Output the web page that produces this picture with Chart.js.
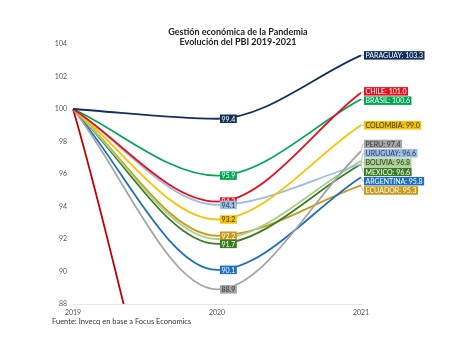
<!DOCTYPE html>
<html><head><meta charset="utf-8">
<script src="https://cdn.jsdelivr.net/npm/chart.js@4"></script>
<style>html,body{margin:0;padding:0;background:#fff}#wrap{width:474px;height:355px}</style>
</head><body><div id="wrap"><canvas id="c" width="474" height="355"></canvas></div>
<script>
// ---- data ----
const years = ['2019', '2020', '2021'];
const countries = ['PARAGUAY','CHILE','BRASIL','COLOMBIA','PERU','URUGUAY','BOLIVIA','MEXICO','ARGENTINA','ECUADOR'];
const paraguay  = [100, 99.4, 103.3];
const chile     = [100, 94.3, 101.0];
const brasil    = [100, 95.9, 100.6];
const colombia  = [100, 93.2, 99.0];
const peru      = [100, 88.9, 97.4];
const uruguay   = [100, 94.1, 96.6];
const bolivia   = [100, 92.0, 96.8];
const mexico    = [100, 91.7, 96.6];
const argentina = [100, 90.1, 95.8];
const ecuador   = [100, 92.2, 95.3];
const otro      = [100, 70.0, 66.0];   // unlabeled series falling off the chart
const yTicks = [88, 90, 92, 94, 96, 98, 100, 102, 104];
const titleLines = ['Gestión económica de la Pandemia', 'Evolución del PBI 2019-2021'];
const sourceText = 'Fuente: Invecq en base a Focus Economics';

// ---- styles ----
const seriesValues = [paraguay, chile, brasil, colombia, peru, uruguay, bolivia, mexico, argentina, ecuador];
const colors = ['#12305a','#e8101e','#00a650','#f6c300','#a5a5a5','#9bbde0','#a6d08a','#3a7d23','#1e6fc0','#c89a1a'];
const textColors = ['#fff','#fff','#fff','#333','#333','#2b3a55','#333','#fff','#fff','#fff'];
const midDrawOrder = [0,2,1,5,3,6,9,7,8,4];
const FONT = 'Lato, "Open Sans", sans-serif';

const datasets = seriesValues.map((v, i) => ({
  label: countries[i], data: v, borderColor: colors[i], backgroundColor: colors[i],
  borderWidth: 1.8, pointRadius: 0, cubicInterpolationMode: 'monotone', fill: false,
  clip: {left: 2, top: 2, right: 2, bottom: 0}
}));
datasets.push({label: '', data: otro, borderColor: '#c00000', borderWidth: 1.8, pointRadius: 0,
  cubicInterpolationMode: 'monotone', fill: false, clip: {left: 2, top: 2, right: 2, bottom: 0}});

function box(ctx, text, x, y, bg, fg, align) {
  ctx.font = '7px ' + FONT;
  const w = ctx.measureText(text).width + 3, h = 8.5;
  const left = align === 'left' ? x : x - w / 2;
  ctx.fillStyle = bg; ctx.fillRect(left, y - h / 2, w, h);
  ctx.fillStyle = fg; ctx.textBaseline = 'middle'; ctx.textAlign = 'left';
  ctx.fillText(text, left + 1.5, y + 0.5);
}

function spread(ys, gap) {
  const clusters = [];
  ys.forEach((y, idx) => {
    clusters.push({sum: y, idx: [idx]});
    while (clusters.length > 1) {
      const c = clusters[clusters.length - 1], p = clusters[clusters.length - 2];
      const cTop = c.sum / c.idx.length - (c.idx.length - 1) * gap / 2;
      const pBot = p.sum / p.idx.length + (p.idx.length - 1) * gap / 2;
      if (cTop < pBot + gap) { p.sum += c.sum; p.idx = p.idx.concat(c.idx); clusters.pop(); } else break;
    }
  });
  const out = [];
  clusters.forEach(c => {
    const top = c.sum / c.idx.length - (c.idx.length - 1) * gap / 2;
    c.idx.forEach((k, j) => out[k] = top + j * gap);
  });
  return out;
}

const labelsPlugin = {
  id: 'labels',
  afterDatasetsDraw(chart) {
    const ctx = chart.ctx, xs = chart.scales.x, ys = chart.scales.y;
    ctx.save();
    // labels at 2020
    const x20 = xs.getPixelForValue(1);
    midDrawOrder.forEach(i => {
      const v = seriesValues[i][1];
      box(ctx, v.toFixed(1), x20 + 3, ys.getPixelForValue(v), colors[i], textColors[i], 'left');
    });
    // labels at 2021
    const x21 = xs.getPixelForValue(2);
    const ends = seriesValues.map(v => ys.getPixelForValue(v[2]));
    const pos = spread(ends, 9.3);
    ctx.strokeStyle = '#b0b0b0'; ctx.lineWidth = 0.8;
    seriesValues.forEach((v, i) => {
      ctx.beginPath(); ctx.moveTo(x21, ends[i]); ctx.lineTo(x21 + 2, pos[i]); ctx.lineTo(x21 + 4, pos[i]); ctx.stroke();
    });
    seriesValues.forEach((v, i) => {
      box(ctx, countries[i] + ': ' + v[2].toFixed(1), x21 + 3, pos[i], colors[i], textColors[i], 'left');
    });
    // title and source
    ctx.fillStyle = '#222'; ctx.textAlign = 'center'; ctx.textBaseline = 'middle';
    ctx.font = 'bold 9px ' + FONT;
    ctx.fillText(titleLines[0], 238, 32);
    ctx.fillText(titleLines[1], 238, 42.5);
    ctx.font = '7.5px ' + FONT; ctx.fillStyle = '#333'; ctx.textAlign = 'left';
    ctx.fillText(sourceText, 52, 322);
    ctx.restore();
  }
};

new Chart(document.getElementById('c'), {
  type: 'line',
  data: {labels: years, datasets},
  options: {
    responsive: false, animation: false,
    layout: {padding: {top: 44, left: 0, right: 113, bottom: 31}},
    plugins: {legend: {display: false}, title: {display: false}, tooltip: {enabled: false}},
    scales: {
      x: {
        offset: false,
        grid: {display: false, drawTicks: false},
        border: {display: true, color: '#e6e6e6', width: 1},
        ticks: {color: '#555', font: {family: FONT, size: 7}, padding: 5, maxRotation: 0},
        afterFit: s => { s.height = 20; }
      },
      y: {
        min: 88, max: 104,
        afterBuildTicks: s => { s.ticks = yTicks.map(v => ({value: v})); },
        grid: {display: false, drawTicks: false},
        border: {display: false},
        ticks: {color: '#555', font: {family: FONT, size: 7}, padding: 6},
        afterFit: s => { s.width = 73; }
      }
    }
  },
  plugins: [labelsPlugin]
});
</script></body></html>
